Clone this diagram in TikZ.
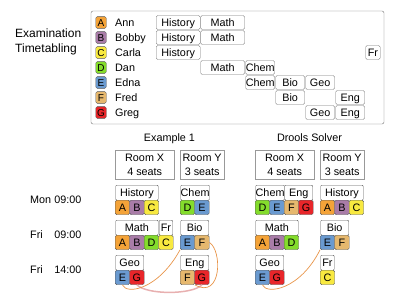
\documentclass[tikz,border=0pt]{standalone}
\usepackage{fontspec}
\setmainfont{Liberation Sans}
\usetikzlibrary{positioning}

\definecolor{stuA}{HTML}{F4A338}
\definecolor{stuB}{HTML}{A97CA8}
\definecolor{stuC}{HTML}{F8E940}
\definecolor{stuD}{HTML}{84DC2C}
\definecolor{stuE}{HTML}{6A9AD0}
\definecolor{stuF}{HTML}{E6B86E}
\definecolor{stuG}{HTML}{E8262A}
\definecolor{linkor}{HTML}{E8954A}
\definecolor{linkred}{HTML}{E8B0B0}

\tikzset{
  txt/.style={font=\fontsize{10.8}{13}\selectfont, inner sep=0pt},
  mid/.style={text height=7.8pt, text depth=0pt},
  key/.style={draw=black!65, rounded corners=1.5pt, minimum width=10.5pt, minimum height=11.7pt,
    inner sep=0pt, text height=7.2pt, text depth=0pt, font=\fontsize{10}{11}\selectfont},
  bar/.style={txt, mid, draw=black!55, rounded corners=1.5pt, minimum height=14pt, anchor=west},
  exam/.style={txt, mid, draw=black!65, fill=white, rounded corners=1pt, minimum height=15pt, anchor=north west},
  stu/.style={txt, mid, draw=black!65, rounded corners=1.5pt, minimum width=14.5pt, minimum height=14.5pt, anchor=north west},
  room/.style={txt, draw=black!40, minimum height=29.3pt, anchor=north west, align=center,
    font=\fontsize{10.8}{13.4}\selectfont},
  link/.style={linkor, line width=0.7pt},
  clash/.style={linkred, line width=1.5pt},
}

% exam in a slot: name, subject, x, y, seats, students
\newcommand{\examslot}[6]{%
  \node[exam, minimum width={14.5*#5-1}] (#1) at ({#3+0.5},#4) {#2};
  \foreach \s [count=\i from 0] in {#6}
    \node[stu, fill=stu\s] (#1\s) at ({#3+14.5*\i},{#4+15}) {\s};
}

\begin{document}
\begin{tikzpicture}[x=1pt,y=-1pt]
\useasboundingbox (0,0) rectangle (400,300);

\node[txt, font=\fontsize{12}{14.7}\selectfont, align=left, anchor=north west] (title) at (15,28.7) {Examination\\Timetabling};

\draw[black!55, rounded corners=2pt] (91,11) rectangle (384,124);

% students
\foreach \s/\nm [count=\i from 0] in {A/Ann, B/Bobby, C/Carla, D/Dan, E/Edna, F/Fred, G/Greg} {
  \node[key, fill=stu\s] (key\s) at (101,{22.5+15*\i}) {\s};
  \node[txt, anchor=base west] (name\s) at (115,{26.4+15*\i}) {\nm};
}

% exams per student
\foreach \r in {0,1,2} \node[bar, minimum width=44pt] (hist\r) at (156,{22.5+15*\r}) {History};
\foreach \r in {0,1,3} \node[bar, minimum width=44pt] (math\r) at (200.5,{22.5+15*\r}) {Math};
\foreach \r in {3,4} \node[bar, minimum width=29pt] (chem\r) at (245.5,{22.5+15*\r}) {Chem};
\foreach \r in {4,5} \node[bar, minimum width=29pt] (bio\r) at (275.5,{22.5+15*\r}) {Bio};
\foreach \r in {4,6} \node[bar, minimum width=29pt] (geo\r) at (305.5,{22.5+15*\r}) {Geo};
\foreach \r in {5,6} \node[bar, minimum width=29pt] (eng\r) at (335.5,{22.5+15*\r}) {Eng};
\node[bar, minimum width=14.5pt] (fr2) at (365.5,52.5) {Fr};

% periods
\foreach \d/\t/\y in {Mon/09:00/200, Fri/09:00/235, Fri/14:00/270} {
  \node[txt, anchor=base west] (day\y) at (30,{\y+3.9}) {\d};
  \node[txt, anchor=base east] (time\y) at (81.7,{\y+3.9}) {\t};
}

% Example 1
\node[txt, anchor=base] (exTitle) at (169.5,141) {Example 1};
\node[room, minimum width=59pt] (exX) at (115,150) {Room X\\4 seats};
\node[room, minimum width=44pt] (exY) at (180,150) {Room Y\\3 seats};
\examslot{exHist}{History}{115}{185}{3}{A,B,C}
\examslot{exChem}{Chem}{180}{185}{2}{D,E}
\examslot{exMath}{Math}{115}{220}{3}{A,B,D}
\examslot{exFr}{Fr}{158.5}{220}{1}{C}
\examslot{exBio}{Bio}{180}{220}{2}{E,F}
\examslot{exGeo}{Geo}{115}{255}{2}{E,G}
\examslot{exEng}{Eng}{180}{255}{2}{F,G}

% Drools Solver
\node[txt, anchor=base] (drTitle) at (309.5,141) {Drools Solver};
\node[room, minimum width=59pt] (drX) at (255,150) {Room X\\4 seats};
\node[room, minimum width=44pt] (drY) at (320,150) {Room Y\\3 seats};
\examslot{drChem}{Chem}{255}{185}{2}{D,E}
\examslot{drEng}{Eng}{284}{185}{2}{F,G}
\examslot{drHist}{History}{320}{185}{3}{A,B,C}
\examslot{drMath}{Math}{255}{220}{3}{A,B,D}
\examslot{drBio}{Bio}{320}{220}{2}{E,F}
\examslot{drGeo}{Geo}{255}{255}{2}{E,G}
\examslot{drFr}{Fr}{320}{255}{1}{C}

% conflicts
\draw[clash] (exGeoG.south) .. controls +(10,10) and +(-10,10) .. (exEngG.south);
\draw[link] (exGeoE.south) .. controls +(4,10) and +(-22,40) .. (exBioE.south west);
\draw[link] (exBioF.east) .. controls +(13,8) and +(27,15) .. (exEngF.south east);
\draw[link] (drGeoE.south) .. controls +(4,10) and +(-20,40) .. (drBioE.south west);

\end{tikzpicture}
\end{document}
